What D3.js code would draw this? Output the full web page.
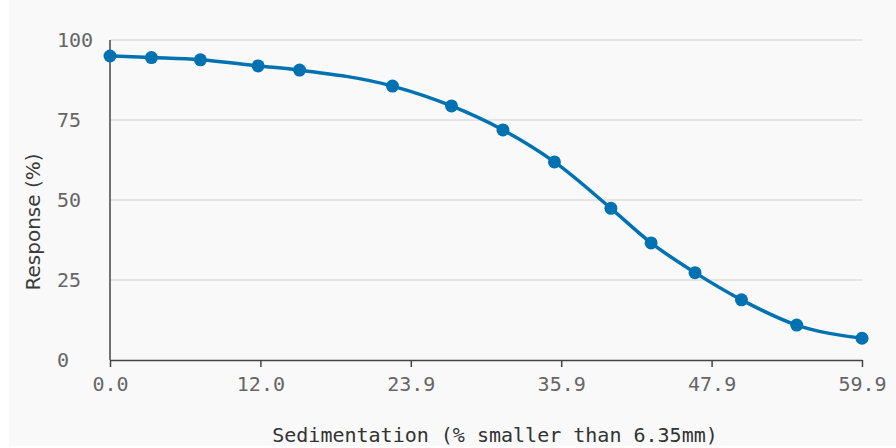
<!DOCTYPE html>
<html>
<head>
<meta charset="utf-8">
<script src="https://cdn.jsdelivr.net/npm/d3@7"></script>
<style>
  html, body { margin: 0; padding: 0; background: #ffffff; }
  svg { display: block; }
</style>
</head>
<body>
<div id="chart"></div>
<script>
// sedimentation (% smaller than 6.35mm) vs response (%)
var sedimentation = [0, 3.3, 7.2, 11.8, 15.1, 22.5, 27.2, 31.3, 35.4, 39.9, 43.1, 46.6, 50.3, 54.7, 59.9];
var response = [95.0, 94.5, 93.8, 91.9, 90.6, 85.6, 79.4, 71.9, 61.9, 47.4, 36.6, 27.3, 18.8, 10.9, 6.8];
var xTicks = [0, 11.98, 23.96, 35.94, 47.92, 59.9];
var xTickLabels = ["0.0", "12.0", "23.9", "35.9", "47.9", "59.9"];
var yTicks = [0, 25, 50, 75, 100];

var width = 896, height = 448;
var margin = { top: 40, right: 34, bottom: 88, left: 110 };
var blue = "#0072b2";
var mono = "'DejaVu Sans Mono', monospace";

var svg = d3.select("#chart")
  .append("svg")
  .attr("width", width)
  .attr("height", height);

// panel background
svg.append("rect")
  .attr("x", 9).attr("y", 0)
  .attr("width", width - 9).attr("height", 446)
  .attr("fill", "#f9f9f9");

var x = d3.scaleLinear()
  .domain([0, 59.9])
  .range([margin.left, width - margin.right]);

var y = d3.scaleLinear()
  .domain([0, 100])
  .range([height - margin.bottom, margin.top]);

// horizontal gridlines
svg.append("g")
  .selectAll("line")
  .data(yTicks.filter(function (d) { return d > 0; }))
  .enter()
  .append("line")
  .attr("x1", x(0)).attr("x2", x(59.9))
  .attr("y1", function (d) { return y(d); })
  .attr("y2", function (d) { return y(d); })
  .attr("stroke", "#dddddd")
  .attr("stroke-width", 1.5);

// x axis
var xAxis = svg.append("g")
  .attr("transform", "translate(0," + y(0) + ")")
  .call(d3.axisBottom(x).tickValues(xTicks).tickSize(7).tickSizeOuter(0)
    .tickFormat(function (d, i) { return xTickLabels[i]; }));
xAxis.select(".domain").attr("stroke", "#444").attr("stroke-width", 1.5);
xAxis.selectAll(".tick line").attr("stroke", "#444").attr("stroke-width", 1.5);
xAxis.selectAll(".tick text")
  .attr("y", 17)
  .attr("fill", "#666")
  .style("font-family", mono)
  .style("font-size", "20px");

// y axis (line only, labels left aligned)
svg.append("line")
  .attr("x1", x(0)).attr("x2", x(0))
  .attr("y1", y(100)).attr("y2", y(0))
  .attr("stroke", "#444")
  .attr("stroke-width", 1.5);

svg.append("g")
  .selectAll("text")
  .data(yTicks)
  .enter()
  .append("text")
  .attr("x", 57)
  .attr("y", function (d) { return y(d) + 1; })
  .attr("dy", "0.32em")
  .attr("fill", "#666")
  .style("font-family", mono)
  .style("font-size", "20px")
  .text(function (d) { return d; });

// axis titles
svg.append("text")
  .attr("x", 495)
  .attr("y", 435)
  .attr("dy", "0.35em")
  .attr("text-anchor", "middle")
  .attr("fill", "#333")
  .style("font-family", mono)
  .style("font-size", "20px")
  .text("Sedimentation (% smaller than 6.35mm)");

svg.append("text")
  .attr("transform", "translate(33,222) rotate(-90)")
  .attr("dy", "0.35em")
  .attr("text-anchor", "middle")
  .attr("fill", "#3a3a3a")
  .style("font-family", "'DejaVu Sans', sans-serif")
  .style("font-size", "20px")
  .text("Response (%)");

// the curve
var points = sedimentation.map(function (s, i) { return [s, response[i]]; });

var line = d3.line()
  .x(function (d) { return x(d[0]); })
  .y(function (d) { return y(d[1]); })
  .curve(d3.curveMonotoneX);

svg.append("path")
  .datum(points)
  .attr("d", line)
  .attr("fill", "none")
  .attr("stroke", blue)
  .attr("stroke-width", 3.5);

svg.append("g")
  .selectAll("circle")
  .data(points)
  .enter()
  .append("circle")
  .attr("cx", function (d) { return x(d[0]); })
  .attr("cy", function (d) { return y(d[1]); })
  .attr("r", 6.5)
  .attr("fill", blue);
</script>
</body>
</html>
